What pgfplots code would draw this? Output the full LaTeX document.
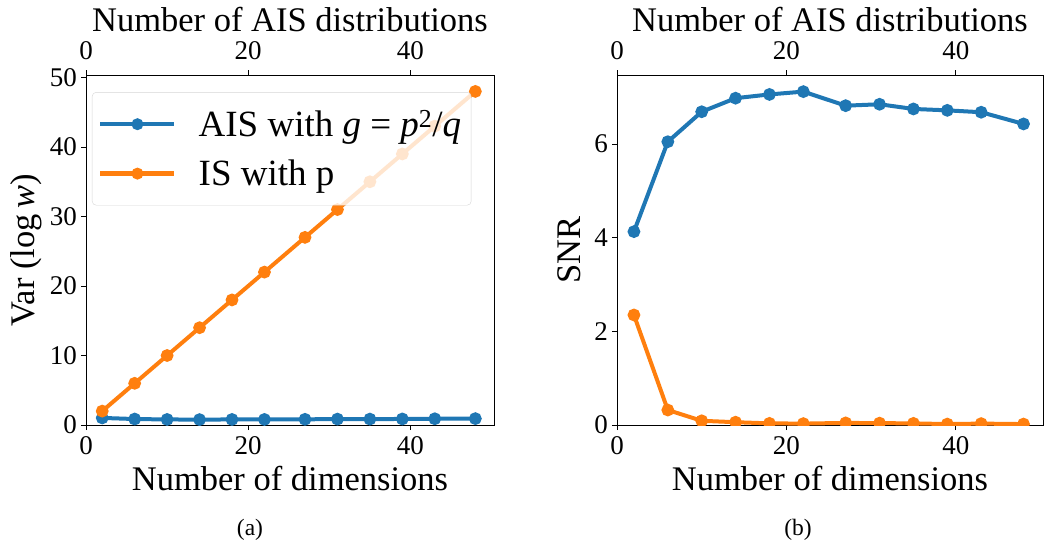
\documentclass[border=0pt]{standalone}
\usepackage{fontspec}
\setmainfont{Liberation Serif}
\usepackage{pgfplots}
\pgfplotsset{compat=1.18}

\definecolor{tabblue}{HTML}{1F77B4}
\definecolor{taborange}{HTML}{FF7F0E}

\pgfplotsset{
  common/.style={
    scale only axis, anchor=south west,
    height=350pt,
    xmin=0, xmax=50.3,
    tick align=outside,
    major tick length=5pt,
    axis line style={line width=1pt},
    every tick/.style={black, line width=1pt},
    xtick={0,20,40},
    ticklabel style={font=\fontsize{27}{27}\selectfont, inner sep=0pt},
    label style={font=\fontsize{34.5}{34.5}\selectfont, inner sep=0pt},
    /pgf/number format/assume math mode=true,
  },
  panel/.style={
    common, ymin=0, tick pos=left,
    xticklabel style={anchor=base, yshift=-24pt},
    yticklabel style={anchor=east, xshift=-4pt},
    xlabel style={at={(axis description cs:0.5,-0.1857)}, anchor=base},
    clip marker paths=true,
  },
  topaxis/.style={
    common, ymin=0, ymax=1,
    axis x line*=top, axis y line=none,
    xticklabel style={anchor=base, yshift=11pt},
    xlabel={Number of AIS distributions},
    xlabel style={at={(axis description cs:0.5,1.123)}, anchor=base},
  },
  curve/.style={line width=4pt, mark=*, mark size=4.3pt, color=#1, mark options={solid}},
}

% Variance of the log importance weights
\pgfplotstableread{
d   ais   is
2   1.02  2.0
6   0.86  6.0
10  0.80  10.0
14  0.78  14.0
18  0.80  18.0
22  0.80  22.0
27  0.82  27.0
31  0.85  31.0
35  0.85  35.0
39  0.87  39.0
43  0.90  43.0
48  0.92  48.0
}\vartable

% Signal-to-noise ratio of the gradient estimates
\pgfplotstableread{
d   ais   is
2   4.13  2.35
6   6.05  0.32
10  6.69  0.09
14  6.98  0.06
18  7.06  0.035
22  7.12  0.03
27  6.82  0.045
31  6.85  0.04
35  6.75  0.035
39  6.72  0.02
43  6.68  0.03
48  6.43  0.02
}\snrtable

\begin{document}
\begin{tikzpicture}
\useasboundingbox (0pt,0pt) rectangle (1044pt,-542pt);

% ---- panel (a)
\begin{axis}[panel, at={(86pt,-425pt)}, width=408pt, ymax=50.36,
  ytick={0,10,20,30,40,50},
  xlabel={Number of dimensions},
  ylabel={Var (log\,\textit{w})},
  ylabel style={at={(axis description cs:-0.108,0.5)}, anchor=south, rotate=0},
  legend style={at={(axis description cs:0.0147,0.951)}, anchor=north west,
    fill=white, fill opacity=0.8, draw opacity=1, text opacity=1,
    draw={rgb,255:red,214;green,214;blue,214}, rounded corners=4pt,
    font=\fontsize{37}{37}\selectfont, row sep=18pt, column sep=18pt,
    inner xsep=6pt, inner ysep=16pt,
    nodes={inner xsep=4pt}},
  legend cell align=left,
  legend image code/.code={\draw[mark repeat=2, mark phase=2, #1, line width=4.5pt, mark size=3.6pt]
    plot coordinates {(0pt,0pt) (37pt,0pt) (74pt,0pt)};},
]
\addplot[curve=tabblue] table[x=d, y=ais] {\vartable};
\addlegendentry{AIS with \textit{g} = \textit{p}\textsuperscript{2}/\textit{q}}
\addplot[curve=taborange] table[x=d, y=is] {\vartable};
\addlegendentry{IS with p}
\end{axis}
\begin{axis}[topaxis, at={(86pt,-425pt)}, width=408pt]
\end{axis}

% ---- panel (b)
\begin{axis}[panel, at={(617pt,-425pt)}, width=426pt, ymax=7.475,
  ytick={0,2,4,6},
  xlabel={Number of dimensions},
  ylabel={SNR},
  ylabel style={at={(axis description cs:-0.0845,0.5)}, anchor=south},
]
\addplot[curve=tabblue] table[x=d, y=ais] {\snrtable};
\addplot[curve=taborange] table[x=d, y=is] {\snrtable};
\end{axis}
\begin{axis}[topaxis, at={(617pt,-425pt)}, width=426pt]
\end{axis}

\node[font=\fontsize{23.5}{23.5}\selectfont] at (250pt,-529.5pt) {(a)};
\node[font=\fontsize{23.5}{23.5}\selectfont] at (798pt,-529.5pt) {(b)};
\end{tikzpicture}
\end{document}
